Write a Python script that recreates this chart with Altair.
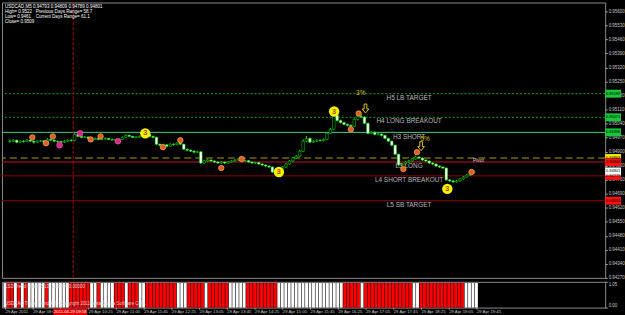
import altair as alt
import pandas as pd

FONT = "Liberation Sans"

# ---------------- data ----------------
OPEN = [
    0.94950, 0.94952, 0.94957, 0.94947, 0.94952, 0.94950, 0.94957, 0.94952, 0.94947, 0.94952,
    0.94954, 0.94947, 0.94961, 0.94957, 0.94952, 0.94950, 0.94947, 0.94952, 0.94957, 0.94955,
    0.94986, 0.94976, 0.94971, 0.94973, 0.94966, 0.94961, 0.94966, 0.94961, 0.94963, 0.94966,
    0.94961, 0.94959, 0.94957, 0.94961, 0.94971, 0.94981, 0.94976, 0.94971, 0.94973, 0.94976,
    0.94981, 0.94986, 0.94976, 0.94971, 0.94937, 0.94932, 0.94934, 0.94927, 0.94937, 0.94935,
    0.94942, 0.94937, 0.94912, 0.94907, 0.94902, 0.94897, 0.94899, 0.94843, 0.94853, 0.94858,
    0.94853, 0.94848, 0.94843, 0.94848, 0.94843, 0.94848, 0.94853, 0.94858, 0.94863, 0.94853,
    0.94855, 0.94848, 0.94843, 0.94845, 0.94838, 0.94833, 0.94828, 0.94823, 0.94798, 0.94793,
    0.94813, 0.94823, 0.94838, 0.94853, 0.94868, 0.94877, 0.94902, 0.94952, 0.94966, 0.94947,
    0.94952, 0.94957, 0.94955, 0.94961, 0.94991, 0.95011, 0.95080, 0.95055, 0.95045, 0.95036,
    0.95031, 0.95026, 0.95060, 0.95075, 0.95072, 0.95041, 0.94991, 0.94996, 0.94986, 0.94988,
    0.94981, 0.94966, 0.94952, 0.94932, 0.94887, 0.94833, 0.94838, 0.94848, 0.94853, 0.94863,
    0.94873, 0.94868, 0.94858, 0.94853, 0.94843, 0.94838, 0.94828, 0.94823, 0.94818, 0.94759,
    0.94754, 0.94749, 0.94754, 0.94764, 0.94773, 0.94783, 0.94793,
]
HIGH = [
    0.94960, 0.94962, 0.94960, 0.94956, 0.94957, 0.94962, 0.94960, 0.94955, 0.94956, 0.94958,
    0.94957, 0.94968, 0.94964, 0.94960, 0.94956, 0.94954, 0.94957, 0.94961, 0.94962, 0.94992,
    0.94990, 0.94980, 0.94978, 0.94976, 0.94970, 0.94971, 0.94969, 0.94967, 0.94971, 0.94969,
    0.94965, 0.94963, 0.94966, 0.94976, 0.94987, 0.94985, 0.94979, 0.94977, 0.94980, 0.94985,
    0.94992, 0.94989, 0.94980, 0.94974, 0.94940, 0.94939, 0.94937, 0.94941, 0.94941, 0.94947,
    0.94945, 0.94939, 0.94916, 0.94911, 0.94906, 0.94904, 0.94902, 0.94858, 0.94863, 0.94862,
    0.94857, 0.94852, 0.94853, 0.94851, 0.94852, 0.94857, 0.94862, 0.94868, 0.94866, 0.94859,
    0.94858, 0.94851, 0.94849, 0.94848, 0.94841, 0.94836, 0.94831, 0.94826, 0.94802, 0.94818,
    0.94828, 0.94843, 0.94858, 0.94873, 0.94883, 0.94908, 0.94962, 0.94978, 0.94970, 0.94957,
    0.94962, 0.94961, 0.94966, 0.94996, 0.95018, 0.95090, 0.95085, 0.95060, 0.95049, 0.95040,
    0.95036, 0.95066, 0.95082, 0.95085, 0.95077, 0.95045, 0.95002, 0.95000, 0.94993, 0.94991,
    0.94984, 0.94969, 0.94955, 0.94935, 0.94890, 0.94843, 0.94853, 0.94858, 0.94869, 0.94880,
    0.94877, 0.94871, 0.94862, 0.94856, 0.94847, 0.94841, 0.94832, 0.94827, 0.94821, 0.94763,
    0.94758, 0.94759, 0.94768, 0.94778, 0.94788, 0.94797, 0.94809,
]
LOW = [
    0.94945, 0.94948, 0.94942, 0.94944, 0.94945, 0.94947, 0.94948, 0.94940, 0.94944, 0.94948,
    0.94942, 0.94945, 0.94952, 0.94947, 0.94944, 0.94938, 0.94943, 0.94949, 0.94950, 0.94952,
    0.94972, 0.94966, 0.94967, 0.94962, 0.94956, 0.94958, 0.94957, 0.94957, 0.94960, 0.94957,
    0.94954, 0.94951, 0.94953, 0.94958, 0.94968, 0.94972, 0.94967, 0.94967, 0.94969, 0.94973,
    0.94978, 0.94972, 0.94966, 0.94932, 0.94926, 0.94928, 0.94922, 0.94924, 0.94930, 0.94931,
    0.94933, 0.94908, 0.94902, 0.94898, 0.94892, 0.94893, 0.94838, 0.94840, 0.94849, 0.94848,
    0.94843, 0.94838, 0.94839, 0.94838, 0.94840, 0.94845, 0.94850, 0.94855, 0.94849, 0.94849,
    0.94844, 0.94838, 0.94839, 0.94833, 0.94828, 0.94822, 0.94818, 0.94793, 0.94786, 0.94790,
    0.94809, 0.94819, 0.94834, 0.94849, 0.94863, 0.94873, 0.94898, 0.94948, 0.94942, 0.94943,
    0.94948, 0.94950, 0.94951, 0.94957, 0.94987, 0.95006, 0.95050, 0.95040, 0.95031, 0.95026,
    0.95021, 0.95022, 0.95056, 0.95068, 0.95036, 0.94986, 0.94987, 0.94981, 0.94981, 0.94976,
    0.94961, 0.94947, 0.94927, 0.94882, 0.94826, 0.94828, 0.94834, 0.94843, 0.94849, 0.94859,
    0.94863, 0.94853, 0.94848, 0.94838, 0.94833, 0.94823, 0.94818, 0.94813, 0.94754, 0.94748,
    0.94744, 0.94745, 0.94750, 0.94760, 0.94769, 0.94779, 0.94789,
]
CLOSE = [
    0.94952, 0.94957, 0.94947, 0.94952, 0.94950, 0.94957, 0.94952, 0.94947, 0.94952, 0.94954,
    0.94947, 0.94961, 0.94957, 0.94952, 0.94950, 0.94947, 0.94952, 0.94957, 0.94955, 0.94986,
    0.94976, 0.94971, 0.94973, 0.94966, 0.94961, 0.94966, 0.94961, 0.94963, 0.94966, 0.94961,
    0.94959, 0.94957, 0.94961, 0.94971, 0.94981, 0.94976, 0.94971, 0.94973, 0.94976, 0.94981,
    0.94986, 0.94976, 0.94971, 0.94937, 0.94932, 0.94934, 0.94927, 0.94937, 0.94935, 0.94942,
    0.94937, 0.94912, 0.94907, 0.94902, 0.94897, 0.94899, 0.94843, 0.94853, 0.94858, 0.94853,
    0.94848, 0.94843, 0.94848, 0.94843, 0.94848, 0.94853, 0.94858, 0.94863, 0.94853, 0.94855,
    0.94848, 0.94843, 0.94845, 0.94838, 0.94833, 0.94828, 0.94823, 0.94798, 0.94793, 0.94813,
    0.94823, 0.94838, 0.94853, 0.94868, 0.94877, 0.94902, 0.94952, 0.94966, 0.94947, 0.94952,
    0.94957, 0.94955, 0.94961, 0.94991, 0.95011, 0.95080, 0.95055, 0.95045, 0.95036, 0.95031,
    0.95026, 0.95060, 0.95075, 0.95072, 0.95041, 0.94991, 0.94996, 0.94986, 0.94988, 0.94981,
    0.94966, 0.94952, 0.94932, 0.94887, 0.94833, 0.94838, 0.94848, 0.94853, 0.94863, 0.94873,
    0.94868, 0.94858, 0.94853, 0.94843, 0.94838, 0.94828, 0.94823, 0.94818, 0.94759, 0.94754,
    0.94749, 0.94754, 0.94764, 0.94773, 0.94783, 0.94793, 0.94801,
]
# indicator histogram state per bar (R = red, W = white)
IND_STATES = ("WRRWRWRW" "WWWWRWWWWWW" "RRRRRR" "WWRWWWW" "RRRWRRR" "WW" "RRRRRRRRR" "WWW"
              "RRRRRWRRRRRR" "WWWWW" "RRRRRRRRR" "WWWWWWWWWWWWWWWWWWW" "RRRRR" "W"
              "RRRRRRRRRRRRRR" "WW" "RRRRRRRRRRRRR" "WWWW")

LEVEL_NAMES = ["H5 LB TARGET", "H4 LONG BREAKOUT", "H3 SHORT", "Pivot",
               "L3 LONG", "L4 SHORT BREAKOUT", "L5 SB TARGET"]
LEVEL_PRICES = [0.95189, 0.95071, 0.94996, 0.94868, 0.94848, 0.94779, 0.94655]

PRICE_TICKS = [0.95600, 0.95530, 0.95460, 0.95390, 0.95320, 0.95250, 0.95180, 0.95110,
               0.95040, 0.94970, 0.94900, 0.94830, 0.94760, 0.94690, 0.94620, 0.94550,
               0.94480, 0.94410, 0.94340, 0.94270]
TIME_TICKS = [0, 8, 16, 24, 32, 40, 48, 56, 64, 72, 80, 88, 96, 104, 112, 120, 128, 136]
TIME_LABELS = ["29 Apr 2011", "29 Apr 09:05", "29 Apr 09:45", "29 Apr 10:25", "29 Apr 11:05",
               "29 Apr 11:45", "29 Apr 12:25", "29 Apr 13:05", "29 Apr 13:45", "29 Apr 14:25",
               "29 Apr 15:05", "29 Apr 15:45", "29 Apr 16:25", "29 Apr 17:05", "29 Apr 17:45",
               "29 Apr 18:25", "29 Apr 19:05", "29 Apr 19:45"]

ORANGE_I = [6.6, 10.6, 12.6, 23.7, 26.6, 44.9, 50.0, 62.0, 68.0, 100.0, 102.3, 115.4, 119.4, 135.4]
ORANGE_P = [0.94971, 0.94942, 0.94976, 0.94961, 0.94976, 0.94922, 0.94957, 0.94818, 0.94863,
            0.95011, 0.95090, 0.94813, 0.94897, 0.94798]
MAGENTA_I = [14.6, 20.6, 31.7]
MAGENTA_P = [0.94932, 0.94991, 0.94952]
YELLOW_I = [39.7, 78.9, 95.1, 128.3]
YELLOW_P = [0.94991, 0.94798, 0.95100, 0.94714]
ARROW_I = [104.3, 120.6]
ARROW_P = [0.95115, 0.94927]
PCT_TEXT = ["3%", "5%"]
PCT_I = [102.9, 121.8]
PCT_P = [0.95192, 0.94963]

CROSS_I = 18.6
CROSS_LABEL = "2011.04.29 09:58"

HEADER_LEFT = ["USDCAD,M5  0.94793 0.94809 0.94789 0.94801", "High= 0.9522", "Low= 0.9461", "Close= 0.9509"]
HEADER_RIGHT = ["Previous Days Range= 58.7", "Current Days Range= 61.1"]
IND_TEXT_TOP = "LSD Trend Histo (5,13)  1.00000 0.00000"
IND_TEXT_BOTTOM = "USDCAD Trade Trend 4.0 - Copyright 2011 MetaQuotes Software Corp."

# ---------------- chart ----------------
W, H_MAIN, H_IND = 609, 278, 26
LIME = "#00e000"
X_DOMAIN = [-0.857, 173.14]
Y_DOMAIN = [0.94270, 0.95644]

XS = alt.Scale(domain=X_DOMAIN, nice=False, zero=False)
YS = alt.Scale(domain=Y_DOMAIN, nice=False, zero=False)
YAX = alt.Axis(orient="right", values=PRICE_TICKS, format=".5f", title=None, grid=False,
               domain=False, tickSize=2, tickColor="#b0b0b0", labelColor="#c8c8c8",
               labelFontSize=4.5, labelPadding=1, labelFont=FONT, labelFlush=False,
               labelOverlap=False)


def xq(f):
    return alt.X(f"{f}:Q", scale=XS, axis=None)


def yq(f):
    return alt.Y(f"{f}:Q", scale=YS, axis=YAX)


n = min(len(OPEN), len(HIGH), len(LOW), len(CLOSE))
bars = pd.DataFrame({"i": list(range(n)), "open": OPEN[:n], "high": HIGH[:n],
                     "low": LOW[:n], "close": CLOSE[:n]})
levels = pd.DataFrame({"name": LEVEL_NAMES, "price": LEVEL_PRICES})

LEVEL_STYLE = {
    "H5 LB TARGET": dict(color="#10a818", strokeDash=[2, 2], strokeWidth=1),
    "H4 LONG BREAKOUT": dict(color="#10a818", strokeDash=[2, 2], strokeWidth=1),
    "H3 SHORT": dict(color="#3cd882", strokeWidth=1),
    "Pivot": dict(color="#a89c00", strokeDash=[7, 4], strokeWidth=1.2),
    "L3 LONG": dict(color="#c0102a", strokeWidth=1.2),
    "L4 SHORT BREAKOUT": dict(color="#8a0008", strokeWidth=1),
    "L5 SB TARGET": dict(color="#8a0008", strokeWidth=1),
}
TAG_COLOR = {
    "H5 LB TARGET": "#18c83a", "H4 LONG BREAKOUT": "#18c83a", "H3 SHORT": "#18c83a",
    "Pivot": "#f0f000", "L3 LONG": "#ff1010", "L4 SHORT BREAKOUT": "#ff1010",
    "L5 SB TARGET": "#ff1010", "current": "#ffffff",
}

layers = []
for nm in LEVEL_NAMES:
    layers.append(alt.Chart(levels).transform_filter(alt.datum.name == nm)
                  .mark_rule(**LEVEL_STYLE[nm]).encode(y=yq("price")))

layers.append(alt.Chart(pd.DataFrame({"i": [CROSS_I]}))
              .mark_rule(color="#b00000", strokeDash=[3, 2], strokeWidth=1)
              .encode(x=xq("i")))

# candles
layers.append(alt.Chart(bars).mark_rule(color=LIME, strokeWidth=1)
              .encode(x=xq("i"), y=yq("low"), y2="high"))
layers.append(alt.Chart(bars).mark_bar(size=2.6, stroke=LIME, strokeWidth=0.5)
              .encode(x=xq("i"), y=yq("open"), y2="close",
                      fill=alt.condition("datum.close > datum.open",
                                         alt.value("#000000"), alt.value("#ffffff"))))

# level labels
labels_hl = levels[levels["name"] != "Pivot"]
layers.append(alt.Chart(labels_hl).mark_text(font=FONT, fontSize=6.5, color="#b8b8b8",
                                             baseline="top", dy=1.2)
              .encode(x=alt.value(411), y=yq("price"), text="name:N"))
layers.append(alt.Chart(levels[levels["name"] == "Pivot"])
              .mark_text(font=FONT, fontSize=5, color="#e8d0d0", baseline="top", dy=0.5)
              .encode(x=alt.value(481), y=yq("price"), text="name:N"))

# markers
orange = pd.DataFrame({"i": ORANGE_I, "p": ORANGE_P})
layers.append(alt.Chart(orange).mark_point(filled=True, size=30, fill="#d8602a",
                                           stroke="#ff9a4a", strokeWidth=0.8, opacity=1)
              .encode(x=xq("i"), y=yq("p")))
magenta = pd.DataFrame({"i": MAGENTA_I, "p": MAGENTA_P})
layers.append(alt.Chart(magenta).mark_point(filled=True, size=34, fill="#d02a88",
                                            stroke="#ff60b0", strokeWidth=0.6, opacity=1)
              .encode(x=xq("i"), y=yq("p")))
yellow = pd.DataFrame({"i": YELLOW_I, "p": YELLOW_P, "t": ["3"] * len(YELLOW_I)})
layers.append(alt.Chart(yellow).mark_circle(size=110, color="#f4f400", opacity=1)
              .encode(x=xq("i"), y=yq("p")))
layers.append(alt.Chart(yellow).mark_text(font=FONT, fontSize=7.5, fontWeight="bold",
                                          color="#b04800")
              .encode(x=xq("i"), y=yq("p"), text="t:N"))
ARROW = "M-0.3,-1L0.3,-1L0.3,0.1L0.75,0.1L0,1L-0.75,0.1L-0.3,0.1Z"
arrows = pd.DataFrame({"i": ARROW_I, "p": ARROW_P})
layers.append(alt.Chart(arrows).mark_point(shape=ARROW, filled=False, size=81,
                                           color="#e0c000", strokeWidth=1, opacity=1)
              .encode(x=xq("i"), y=yq("p")))
pct = pd.DataFrame({"i": PCT_I, "p": PCT_P, "t": PCT_TEXT})
layers.append(alt.Chart(pct).mark_text(font=FONT, fontSize=6.5, color="#d8c400")
              .encode(x=xq("i"), y=yq("p"), text="t:N"))

# price tags on the right
tags = pd.DataFrame({"name": LEVEL_NAMES + ["current"],
                     "price": LEVEL_PRICES + [CLOSE[n - 1]]})
tags["c"] = tags["name"].map(TAG_COLOR)
RECT = "M-1,-0.5L1,-0.5L1,0.5L-1,0.5Z"
layers.append(alt.Chart(tags).mark_point(shape=RECT, filled=True, size=256, opacity=1,
                                         strokeWidth=0)
              .encode(x=alt.value(617), y=yq("price"), color=alt.Color("c:N", scale=None)))
layers.append(alt.Chart(tags).mark_text(font=FONT, fontSize=4, color="#000000")
              .encode(x=alt.value(617), y=yq("price"),
                      text=alt.Text("price:Q", format=".5f")))

# header
HL_Y = [4.5, 9.5, 15, 20]
for t, yy in zip(HEADER_LEFT, HL_Y):
    layers.append(alt.Chart(pd.DataFrame({"t": [t]}))
                  .mark_text(font=FONT, fontSize=4.6, color="#ffffff", align="left")
                  .encode(x=alt.value(3), y=alt.value(yy), text="t:N"))
for t, yy in zip(HEADER_RIGHT, HL_Y[1:3]):
    layers.append(alt.Chart(pd.DataFrame({"t": [t]}))
                  .mark_text(font=FONT, fontSize=4.6, color="#ffffff", align="left")
                  .encode(x=alt.value(34), y=alt.value(yy), text="t:N"))

main = alt.layer(*layers).properties(width=W, height=H_MAIN)

# ---------------- indicator panel ----------------
ind = pd.DataFrame({"i": list(range(n)), "state": list(IND_STATES[:n])})
ticks_js = "[" + ",".join(str(t) for t in TIME_TICKS) + "]"
labels_js = "[" + ",".join(f"'{s}'" for s in TIME_LABELS) + "]"
XAX = alt.Axis(orient="bottom", values=TIME_TICKS, title=None, grid=False, domain=False,
               tickSize=1.5, tickColor="#b0b0b0", labelColor="#c8c8c8", labelFontSize=4.3,
               labelFont=FONT, labelAlign="left", labelPadding=0.5, labelOverlap=False,
               labelFlush=False, labelExpr=f"{labels_js}[indexof({ticks_js}, datum.value)]")
YS2 = alt.Scale(domain=[0, 1.05], nice=False, zero=False)
Y2AX = alt.Axis(orient="right", values=[0, 1.05], format=".2f", title=None, grid=False,
                domain=False, tickSize=2, tickColor="#b0b0b0", labelColor="#c8c8c8",
                labelFontSize=4.5, labelFont=FONT, labelPadding=1, labelFlush=True)
XS2 = alt.Scale(domain=X_DOMAIN, nice=False, zero=False)

hist = (alt.Chart(ind)
        .transform_calculate(x0="datum.i - 0.42", x1="datum.i + 0.42", v="1", base="0")
        .mark_rect()
        .encode(x=alt.X("x0:Q", scale=XS2, axis=XAX), x2="x1:Q",
                y=alt.Y("v:Q", scale=YS2, axis=Y2AX), y2="base:Q",
                color=alt.Color("state:N", scale=alt.Scale(domain=["R", "W"],
                                                           range=["#ff0000", "#ffffff"]),
                                legend=None)))
cross2 = (alt.Chart(pd.DataFrame({"i": [CROSS_I]}))
          .mark_rule(color="#b00000", strokeDash=[3, 2], strokeWidth=1)
          .encode(x=alt.X("i:Q", scale=XS2, axis=XAX)))
crossbox = (alt.Chart(pd.DataFrame({"i": [CROSS_I], "t": [CROSS_LABEL]}))
            .transform_calculate(a="datum.i - 4.6", b="datum.i + 5.1")
            .mark_rect(color="#e00000")
            .encode(x=alt.X("a:Q", scale=XS2, axis=XAX), x2="b:Q",
                    y=alt.value(27), y2=alt.value(34.5)))
crosstext = (alt.Chart(pd.DataFrame({"i": [CROSS_I], "t": [CROSS_LABEL]}))
             .transform_calculate(c="datum.i + 0.25")
             .mark_text(font=FONT, fontSize=4.3, color="#ffffff")
             .encode(x=alt.X("c:Q", scale=XS2, axis=XAX), y=alt.value(30.8), text="t:N"))
t_top = (alt.Chart(pd.DataFrame({"t": [IND_TEXT_TOP]}))
         .mark_text(font=FONT, fontSize=4.5, color="#d8d8d8", align="left")
         .encode(x=alt.value(3), y=alt.value(5.5), text="t:N"))
t_bot = (alt.Chart(pd.DataFrame({"t": [IND_TEXT_BOTTOM]}))
         .mark_text(font=FONT, fontSize=4.5, color="#d8d8d8", align="left")
         .encode(x=alt.value(3), y=alt.value(22.5), text="t:N"))

indicator = alt.layer(hist, cross2, t_top, t_bot, crossbox, crosstext).properties(
    width=W, height=H_IND)

chart = (alt.vconcat(main, indicator, spacing=1)
         .properties(background="#000000", padding=0)
         .configure_view(stroke="#8c8c8c", strokeWidth=1)
         .configure_concat(spacing=1))

chart.save("out.html", embed_options={"renderer": "svg", "actions": False})
